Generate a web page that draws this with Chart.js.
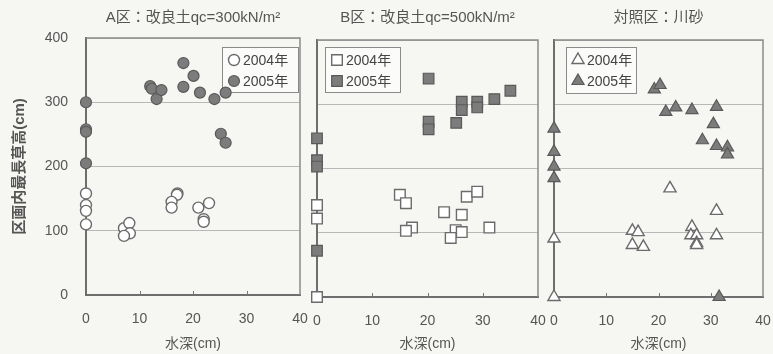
<!DOCTYPE html>
<html lang="ja">
<head>
<meta charset="utf-8">
<title>区画内最長草高と水深</title>
<script src="https://cdn.jsdelivr.net/npm/chart.js@4.4.1/dist/chart.umd.min.js"></script>
<style>
  html, body { margin: 0; padding: 0; background: #f6f6f3; }
  #wrap { position: relative; width: 773px; height: 354px; overflow: hidden; }
  #wrap canvas { position: absolute; top: 0; }
</style>
</head>
<body>
<div id="wrap">
  <canvas id="panelA" width="310" height="354" style="left:0px"></canvas>
  <canvas id="panelB" width="250" height="354" style="left:300px"></canvas>
  <canvas id="panelC" width="233" height="354" style="left:540px"></canvas>
</div>
<script>
// axis ticks shared by all three plots
const depthTicks = [0, 10, 20, 30, 40];
const heightTicks = [0, 100, 200, 300, 400];
const yearLabels = ['2004年', '2005年'];

// A区
const depthA04 = [0, 0, 0, 0, 7.1, 8.1, 8.2, 7.1, 17.1, 17, 16, 16, 21, 23, 22, 22];
const heightA04 = [158, 140, 131, 110, 104, 112, 96, 92, 158, 156, 145, 136, 136, 143, 118, 114];
const depthA05 = [0, 0, 0, 0, 12, 12.3, 13.2, 14.1, 18.2, 18.2, 20.1, 21.3, 24, 26.1, 25.2, 26.1];
const heightA05 = [300, 258, 254, 205, 325, 321, 305, 319, 361, 324, 341, 315, 305, 315, 251, 237];

// B区
const depthB04 = [0, 0, 0, 15, 16.1, 17.2, 16.1, 23, 26.2, 27.1, 29, 25.1, 26.2, 24.2, 31.2];
const heightB04 = [0, 143, 122, 159, 146, 108, 103, 132, 128, 156, 164, 104, 101, 92, 108];
const depthB05 = [0, 0, 0, 0, 20.2, 20.2, 20.2, 25.2, 26.2, 26.2, 29, 29, 32.1, 35];
const heightB05 = [247, 213, 203, 72, 340, 273, 261, 271, 304, 291, 304, 295, 308, 321];

// 対照区
const depthC04 = [0, 0, 22.2, 31.1, 31.1, 15, 16.1, 15, 17.1, 26.4, 26.2, 27.3, 27.3, 27.3];
const heightC04 = [0, 91, 169, 134, 96, 103, 101, 81, 78, 109, 96, 96, 84, 81];
const depthC05 = [0, 0, 0, 0, 19.2, 20.3, 21.4, 23.3, 26.4, 31.1, 30.5, 28.4, 31.1, 33.2, 33.2, 31.6];
const heightC05 = [262, 226, 203, 185, 323, 330, 288, 295, 291, 296, 269, 244, 235, 233, 222, 0];

const FONT = "'Liberation Sans', 'Noto Sans CJK JP', sans-serif";
const TEXT = '#555';
Chart.defaults.font.family = FONT;
Chart.defaults.color = TEXT;

const toPoints = (xs, ys) => xs.map((x, i) => ({ x, y: ys[i] }));

// frame, inner ticks, boxed legend and panel title
const panelDecor = {
  id: 'panelDecor',
  beforeDatasetsDraw(chart, args, opts) {
    const { ctx, chartArea: a } = chart;
    const xs = chart.scales.x;
    ctx.save();
    ctx.strokeStyle = '#8a8a8a';
    ctx.lineWidth = 1.5;
    ctx.beginPath();
    ctx.moveTo(a.left, a.top);
    ctx.lineTo(a.right, a.top);
    ctx.lineTo(a.right, a.bottom);
    ctx.stroke();

    ctx.strokeStyle = '#777';
    ctx.lineWidth = 1;
    ctx.beginPath();
    depthTicks.slice(1, -1).forEach(v => {
      const px = Math.round(xs.getPixelForValue(v)) + 0.5;
      ctx.moveTo(px, a.bottom);
      ctx.lineTo(px, a.bottom - 4);
    });
    ctx.stroke();

    const lg = opts.legend;
    const bx = a.left + lg.x, by = a.top + lg.y;
    ctx.fillStyle = '#fbfbf9';
    ctx.fillRect(bx, by, lg.w, lg.h);
    ctx.strokeStyle = '#8a8a8a';
    ctx.lineWidth = 1;
    ctx.strokeRect(bx + 0.5, by + 0.5, lg.w, lg.h);
    ctx.font = '14px ' + FONT;
    ctx.textBaseline = 'middle';
    ctx.textAlign = 'left';
    chart.data.datasets.forEach((ds, i) => {
      const cy = by + 13 + i * 21;
      ctx.fillStyle = ds.backgroundColor;
      ctx.strokeStyle = ds.borderColor;
      ctx.lineWidth = ds.borderWidth;
      Chart.helpers.drawPoint(ctx, { pointStyle: ds.pointStyle, radius: ds.pointRadius, borderWidth: ds.borderWidth, rotation: 0 }, bx + 12, cy);
      ctx.fillStyle = '#444';
      ctx.fillText(ds.label, bx + 21, cy + 1);
    });
    ctx.restore();
  },
  afterDraw(chart, args, opts) {
    const { ctx, chartArea: a } = chart;
    ctx.save();
    ctx.font = '15px ' + FONT;
    ctx.fillStyle = TEXT;
    ctx.textAlign = 'center';
    ctx.textBaseline = 'middle';
    ctx.fillText(opts.title, (a.left + a.right) / 2, 18);
    ctx.restore();
  }
};

const panels = [
  { id: 'panelA', title: 'A区：改良土qc=300kN/m²', d04: [depthA04, heightA04], d05: [depthA05, heightA05],
    style: 'circle', radius: 5.5, showY: true, axisW: 86, padRight: 10, top: 38, axisH: 59,
    legend: { x: 136, y: 9, w: 76, h: 45 } },
  { id: 'panelB', title: 'B区：改良土qc=500kN/m²', d04: [depthB04, heightB04], d05: [depthB05, heightB05],
    style: 'rect', radius: 7.5, showY: false, axisW: 17, padRight: 12, top: 40, axisH: 57,
    legend: { x: 8, y: 7, w: 75, h: 45 } },
  { id: 'panelC', title: '対照区：川砂', d04: [depthC04, heightC04], d05: [depthC05, heightC05],
    style: 'triangle', radius: 7, showY: false, axisW: 14, padRight: 10, top: 40, axisH: 57,
    legend: { x: 12, y: 7, w: 70, h: 46 } }
];

panels.forEach(p => {
  new Chart(document.getElementById(p.id), {
    type: 'scatter',
    data: {
      datasets: [
        { label: yearLabels[0], data: toPoints(...p.d04), pointStyle: p.style, pointRadius: p.radius,
          backgroundColor: '#ffffff', borderColor: '#6b6b6b', borderWidth: 1.4, clip: false },
        { label: yearLabels[1], data: toPoints(...p.d05), pointStyle: p.style, pointRadius: p.radius,
          backgroundColor: '#7c7c7c', borderColor: '#595959', borderWidth: 1.2, clip: false }
      ]
    },
    options: {
      responsive: false,
      animation: false,
      events: [],
      layout: { padding: { left: 0, right: p.padRight, top: p.top, bottom: 0 } },
      scales: {
        x: {
          type: 'linear', min: depthTicks[0], max: depthTicks[depthTicks.length - 1],
          afterFit: s => { s.height = p.axisH; s.paddingLeft = 0; s.paddingRight = 0; },
          afterBuildTicks: s => { s.ticks = depthTicks.map(v => ({ value: v })); },
          grid: { display: false },
          border: { color: '#6e6e6e', width: 2 },
          ticks: { padding: 8, font: { size: 14 }, color: TEXT, maxRotation: 0 },
          title: { display: true, text: '水深(cm)', font: { size: 14 }, color: TEXT, padding: { bottom: 1 } }
        },
        y: {
          type: 'linear', min: heightTicks[0], max: heightTicks[heightTicks.length - 1],
          afterFit: s => { s.width = p.axisW; s.paddingTop = 0; s.paddingBottom = 0; },
          afterBuildTicks: s => { s.ticks = heightTicks.map(v => ({ value: v })); },
          grid: { color: '#b8b8b8', lineWidth: 1, drawTicks: false },
          border: { color: '#6e6e6e', width: 2 },
          ticks: { display: p.showY, padding: 18, font: { size: 14 }, color: TEXT },
          title: { display: p.showY, text: '区画内最長草高(cm)', font: { size: 15, weight: 'bold' }, color: TEXT, padding: { top: 11 } }
        }
      },
      plugins: {
        legend: { display: false },
        tooltip: { enabled: false },
        panelDecor: { title: p.title, legend: p.legend }
      }
    },
    plugins: [panelDecor]
  });
});
</script>
</body>
</html>
